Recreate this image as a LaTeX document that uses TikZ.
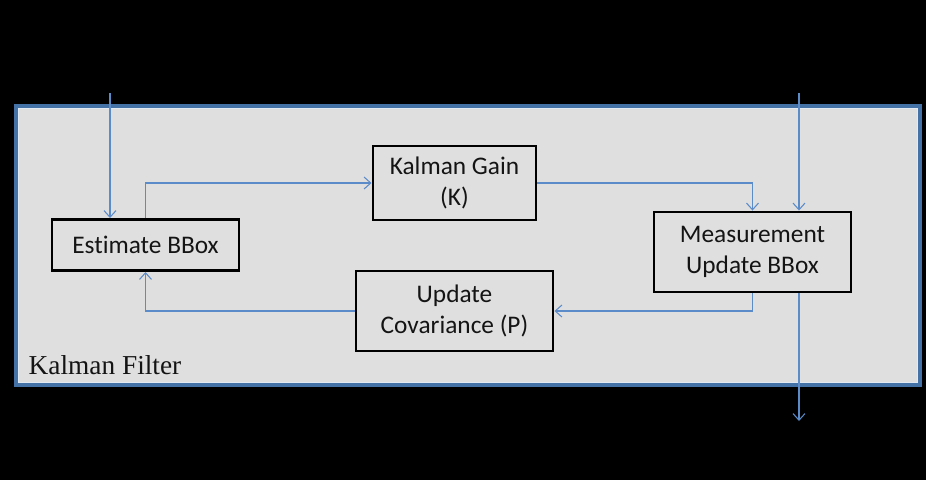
\documentclass[tikz,border=0pt]{standalone}
\usepackage{fontspec}
\setmainfont{Carlito}[Ligatures = NoCommon]
\newfontfamily\labelfont{Liberation Serif}
\usetikzlibrary{arrows.meta}

\definecolor{linkblue}{HTML}{5B8BC9}
\definecolor{frameblue}{HTML}{4471A6}
\definecolor{panelgrey}{HTML}{DFDFDF}
\definecolor{textdark}{HTML}{141414}

\tikzset{
	stage/.style = {draw = black, line width = 2.2pt, fill = panelgrey, text = textdark,
		align = center, inner sep = 0pt,
		font = \fontsize{19}{23.5}\selectfont},
	link/.style = {draw = linkblue, line width = 0.8pt, -{Straight Barb[length = 5pt, width = 9pt]}},
	wire/.style = {draw = linkblue, line width = 0.8pt}
}

\begin{document}
\begin{tikzpicture}[x = 0.75pt, y = -0.75pt]%Kalman filter
	\fill[black] (0,0) rectangle (926,480);
	\useasboundingbox (0,0) rectangle (926,480);
	% frame
	\draw[frameblue, line width = 3pt, fill = panelgrey] (16,106) rectangle (920,385);
	\draw[white!85!frameblue, line width = 0.6pt] (18.5,108.5) rectangle (917.5,382.5);
	\node[anchor = west, text = textdark, font = \labelfont\fontsize{20.5}{22}\selectfont] (title) at (24,365) {Kalman Filter};
	% stages
	\node[stage, minimum width = 140.25pt, minimum height = 38.25pt] (est) at (145.5,245) {Estimate BBox};
	\node[stage, minimum width = 122.25pt, minimum height = 55.5pt] (gain) at (454.5,183) {Kalman Gain\\(K)};
	\node[stage, minimum width = 147.75pt, minimum height = 60pt] (cov) at (454.5,311) {Update\\Covariance (P)};
	\node[stage, minimum width = 147.75pt, minimum height = 60pt] (meas) at (752.5,252) {Measurement\\Update BBox};
	% inputs and output
	\coordinate (in1) at (110,93);
	\coordinate (in2) at (799,93);
	\coordinate (out) at (799,421);
	\draw[link] (in1) -- (in1 |- est.north);
	\draw[link] (in2) -- (in2 |- meas.north);
	\draw[link] (out |- meas.south) -- (out);
	% loop
	\draw[link] (est.north) |- (gain.west);
	\draw[link] (gain.east) -| (meas.north);
	\draw[link] (meas.south) |- (cov.east);
	\draw[link] (cov.west) -| (est.south);
\end{tikzpicture}
\end{document}
